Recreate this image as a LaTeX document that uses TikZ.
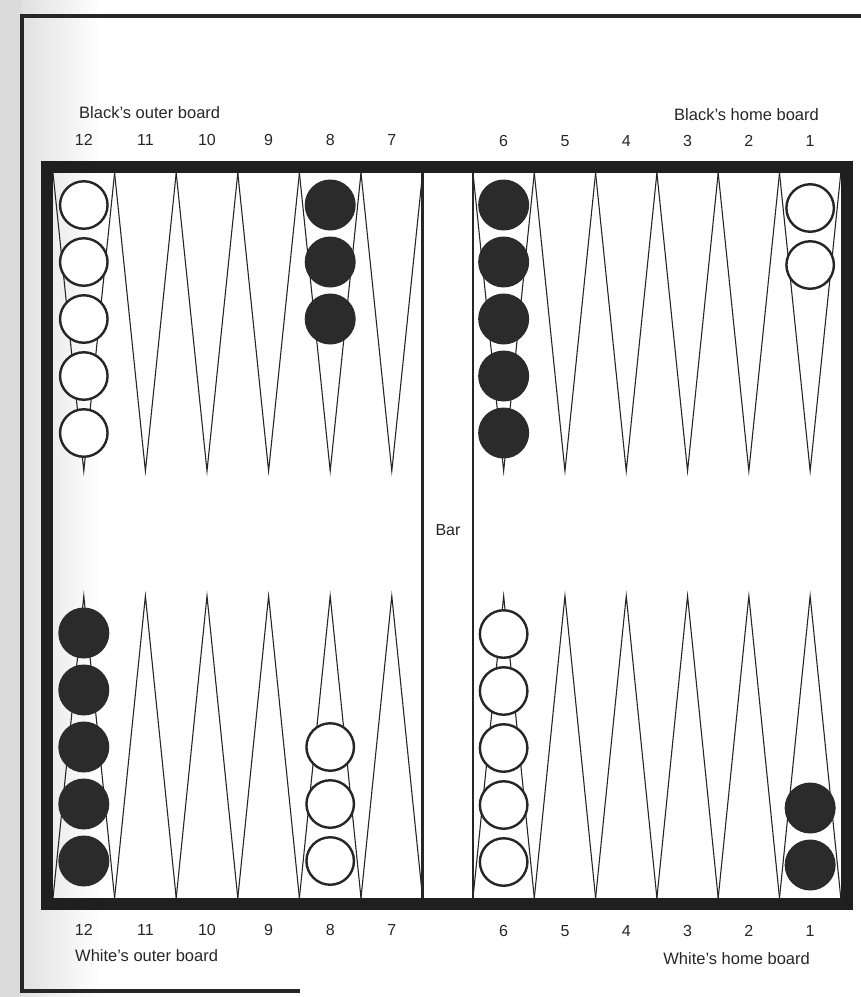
\documentclass[tikz,border=0pt]{standalone}
\usepackage{fontspec}
\setmainfont{Liberation Sans}
\usetikzlibrary{positioning}

\begin{document}
\begin{tikzpicture}[x=1pt, y=-1pt,
    point/.style={draw=black!85, line width=1.1pt, line join=miter},
    whiteman/.style={circle, draw=black!85, line width=2.4pt, fill=white, minimum size=47.5pt, inner sep=0pt},
    blackman/.style={circle, fill=black!83, minimum size=51pt, inner sep=0pt},
    number/.style={font=\fontsize{16}{19}\selectfont, text=black!85},
    boardname/.style={font=\fontsize{16.5}{20}\selectfont, text=black!85, inner sep=0pt}
]
\useasboundingbox (0,0) rectangle (861,997);

% scan shadow on the left
\fill[gray!28] (0,0) rectangle (22,997);
\shade[left color=gray!24, right color=white] (22,0) rectangle (100,997);

% page edge
\draw[line width=4pt, black!85] (300,991) -- (22,991) -- (22,16) -- (861,16);

% points
\foreach \i in {0,...,5} {
    \draw[point] ({53+61.6*\i},173) -- ({83.8+61.6*\i},471) -- ({114.6+61.6*\i},173);
    \draw[point] ({53+61.6*\i},898) -- ({83.8+61.6*\i},596) -- ({114.6+61.6*\i},898);
    \draw[point] ({473+61.3*\i},173) -- ({503.65+61.3*\i},471) -- ({534.3+61.3*\i},173);
    \draw[point] ({473+61.3*\i},898) -- ({503.65+61.3*\i},596) -- ({534.3+61.3*\i},898);
}

% bar
\draw[line width=2.2pt, black!85] (422.5,173) -- (422.5,898);
\draw[line width=2.2pt, black!85] (473,173) -- (473,898);
\node[boardname, font=\fontsize{16}{19}\selectfont] (bar) at (448,530) {Bar};

% board frame
\draw[line width=12pt, black!88] (47,167) rectangle (847,904);

% men, top row
\foreach \n in {1,...,5} \node[whiteman] (w12-\n) at (83.8,{205+57*(\n-1)}) {};
\foreach \n in {1,...,3} \node[blackman] (b8-\n) at (330.2,{205+57*(\n-1)}) {};
\foreach \n in {1,...,5} \node[blackman] (b6-\n) at (503.65,{205+57*(\n-1)}) {};
\foreach \n in {1,...,2} \node[whiteman] (w1-\n) at (810.15,{208+57*(\n-1)}) {};

% men, bottom row
\foreach \n in {1,...,5} \node[blackman] (b12-\n) at (83.8,{861-57*(\n-1)}) {};
\foreach \n in {1,...,3} \node[whiteman] (w8-\n) at (330.2,{861-57*(\n-1)}) {};
\foreach \n in {1,...,5} \node[whiteman] (w6-\n) at (503.65,{862-57*(\n-1)}) {};
\foreach \n in {1,...,2} \node[blackman] (b1-\n) at (810.15,{865-57*(\n-1)}) {};

% point numbers
\foreach \p [evaluate=\p as \cx using {53+61.6*(12-\p+0.5)}] in {12,11,...,7} {
    \node[number] (top\p) at (\cx,140) {\p};
    \node[number] (bot\p) at (\cx,930) {\p};
}
\foreach \p [evaluate=\p as \cx using {473+61.3*(6-\p+0.5)}] in {6,5,...,1} {
    \node[number] (top\p) at (\cx,141) {\p};
    \node[number] (bot\p) at (\cx,931) {\p};
}

% board names
\node[boardname, anchor=west] (blackouter) at (79,113) {Black's outer board};
\node[boardname, anchor=east] (blackhome) at (819,115) {Black's home board};
\node[boardname, anchor=west] (whiteouter) at (75,956) {White's outer board};
\node[boardname, anchor=east] (whitehome) at (810,959) {White's home board};

\end{tikzpicture}
\end{document}
